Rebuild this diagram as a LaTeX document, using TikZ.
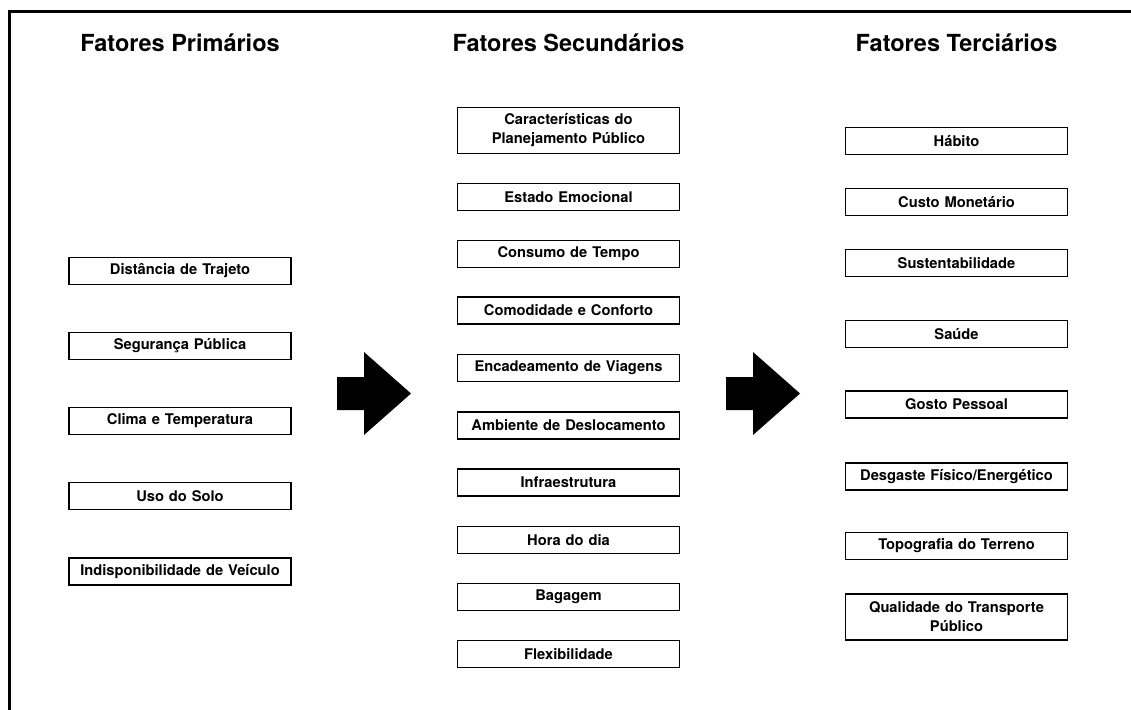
\documentclass[tikz,border=0pt]{standalone}
\usepackage{fontspec}
\setmainfont{TeX Gyre Heros}
\newfontfamily\hfont{TeX Gyre Heros}
\begin{document}
\begin{tikzpicture}[x=1pt,y=-1pt,
  title/.style={font=\hfont\bfseries\fontsize{23.5}{28}\selectfont, anchor=base, inner sep=0pt},
  fbox/.style={draw, line width=1.6pt, minimum width=222pt, minimum height=27pt, inner sep=0pt,
     text width=216pt, align=center, font=\hfont\bfseries\fontsize{14.7}{19}\selectfont},
  tallbox/.style={fbox, minimum height=46pt},
  bigarrow/.style={fill=black}]
\useasboundingbox (0,0) rectangle (1131,709);
\draw[line width=3pt, line join=miter] (9.5,712) -- (9.5,11.3) -- (1134,11.3);

\node[title] (t1) at (180,52) {Fatores Primários};
\node[title] (t2) at (568.5,52) {Fatores Secundários};
\node[title] (t3) at (956.5,52) {Fatores Terciários};

% primary
\node[fbox] (p1) at (180,271) {Distância de Trajeto};
\node[fbox] (p2) at (180,346) {Segurança Pública};
\node[fbox] (p3) at (180,421) {Clima e Temperatura};
\node[fbox] (p4) at (180,496) {Uso do Solo};
\node[fbox] (p5) at (180,571.5) {Indisponibilidade de Veículo};

% secondary
\node[tallbox] (s1) at (568.5,130.5) {Características do\\Planejamento Público};
\node[fbox] (s2) at (568.5,197) {Estado Emocional};
\node[fbox] (s3) at (568.5,254) {Consumo de Tempo};
\node[fbox] (s4) at (568.5,310.5) {Comodidade e Conforto};
\node[fbox] (s5) at (568.5,368) {Encadeamento de Viagens};
\node[fbox] (s6) at (568.5,425.5) {Ambiente de Deslocamento};
\node[fbox] (s7) at (568.5,482.5) {Infraestrutura};
\node[fbox] (s8) at (568.5,540) {Hora do dia};
\node[fbox] (s9) at (568.5,597) {Bagagem};
\node[fbox] (s10) at (568.5,654) {Flexibilidade};

% tertiary
\node[fbox] (r1) at (956.5,141) {Hábito};
\node[fbox] (r2) at (956.5,202) {Custo Monetário};
\node[fbox] (r3) at (956.5,263) {Sustentabilidade};
\node[fbox] (r4) at (956.5,334) {Saúde};
\node[fbox] (r5) at (956.5,404.5) {Gosto Pessoal};
\node[fbox] (r6) at (956.5,476.5) {Desgaste Físico/Energético};
\node[fbox] (r7) at (956.5,546) {Topografia do Terreno};
\node[tallbox] (r8) at (956.5,617) {Qualidade do Transporte\\Público};

% big arrows
\fill[bigarrow] (337,377) -- (364,377) -- (364,352) -- (411,393.5) -- (364,435) -- (364,410) -- (337,410) -- cycle;
\fill[bigarrow] (726,377) -- (753,377) -- (753,352) -- (800,393.5) -- (753,435) -- (753,410) -- (726,410) -- cycle;
\end{tikzpicture}
\end{document}
